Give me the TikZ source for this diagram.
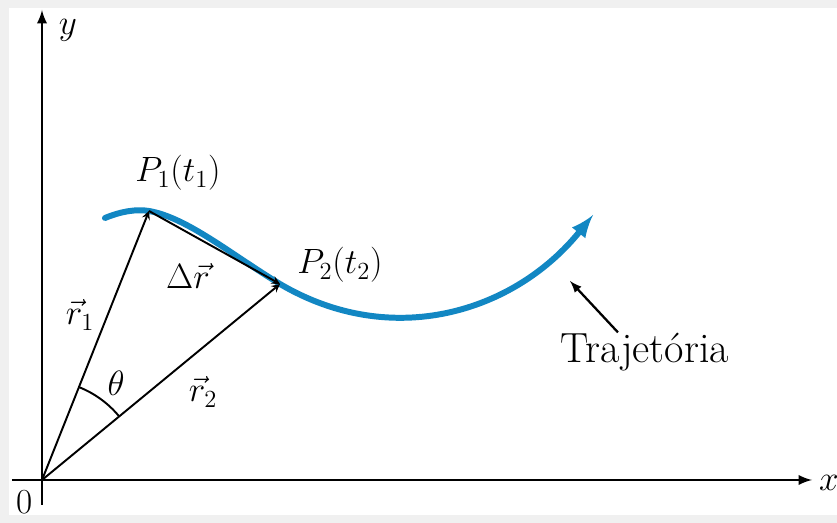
\documentclass[tikz,border=0pt]{standalone}
\usepackage{fix-cm}
\usepackage{amsmath,amssymb}
\usepackage{tikz}
\usetikzlibrary{calc}
\definecolor{azultraj}{RGB}{18,135,195}

\begin{document}
\begin{tikzpicture}[
    eixo/.style={line width=1.6pt,-latex},
    vetor/.style={line width=1.1pt,-stealth},
    rotulo/.style={font=\fontsize{20}{24}\selectfont},
    trajetoria/.style={azultraj,line width=3.4pt,line cap=round,-latex}
]

% fundo e moldura
\fill[gray!12] (-0.84,-0.86) rectangle (15.9,9.6);
\fill[white] (-0.66,-0.70) rectangle (15.9,9.44);
\useasboundingbox (-0.84,-0.86) rectangle (15.9,9.6);

% pontos
\coordinate (O) at (0,0);
\coordinate (P1) at (2.14,5.38);
\coordinate (P2) at (4.76,3.92);
\coordinate (xini) at (-0.6,0);
\coordinate (xfim) at (15.4,0);
\coordinate (yini) at (0,-0.5);
\coordinate (yfim) at (0,9.4);

% eixos
\draw[eixo] (xini) -- (xfim);
\draw[eixo] (yini) -- (yfim);
\node[rotulo] (ylab) at (0.52,9.0) {$y$};
\node[rotulo] (xlab) at (15.74,-0.06) {$x$};
\node[rotulo] (zero) at (-0.34,-0.44) {0};

% trajetoria
\draw[trajetoria] (1.26,5.24) .. controls (1.6,5.38) and (1.9,5.42) .. (P1)
    .. controls (2.9,5.25) and (3.8,4.5) .. (P2)
    .. controls (7.0,2.6) and (9.45,3.35) .. (11.02,5.30);

% vetores posicao e deslocamento
\draw[vetor] (O) -- (P1);
\draw[vetor] (O) -- (P2);
\draw[vetor] (P1) -- (P2);

% angulo
\draw[line width=1.1pt] ($(O)!2cm!(P2)$) arc (39.5:68.4:2);

\node[rotulo] (r1) at (0.76,3.3) {$\vec{r}_1$};
\node[rotulo] (r2) at (3.22,1.76) {$\vec{r}_2$};
\node[rotulo] (dr) at (2.92,4.08) {$\Delta\vec{r}$};
\node[rotulo] (teta) at (1.48,1.94) {$\theta$};
\node[rotulo] (p1lab) at (2.72,6.14) {$P_1(t_1)$};
\node[rotulo] (p2lab) at (5.96,4.30) {$P_2(t_2)$};

% legenda
\node[font=\fontsize{24}{28}\selectfont,anchor=base] (traj) at (12.06,2.34) {Trajetória};
\coordinate (ponta) at (10.56,3.98);
\draw[line width=1.3pt,-latex] ([xshift=-0.54cm,yshift=-0.1cm]traj.north) -- (ponta);

\end{tikzpicture}
\end{document}
